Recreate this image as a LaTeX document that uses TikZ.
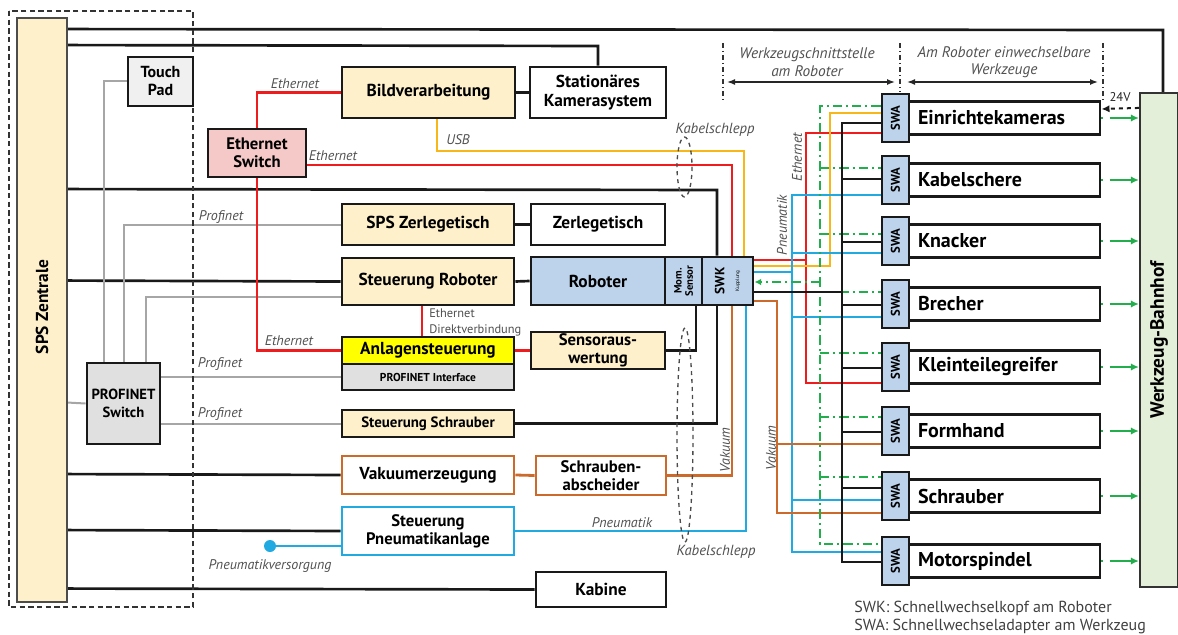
\documentclass[tikz,border=0pt]{standalone}
\usepackage{fontspec}
\setmainfont{PT Sans}
\usetikzlibrary{calc,arrows.meta}

\definecolor{boxorange}{HTML}{FDF0CB}
\definecolor{roboblue}{HTML}{BCD3EB}
\definecolor{switchpink}{HTML}{F6C9C9}
\definecolor{bahngreen}{HTML}{E3EFD9}
\definecolor{padgray}{HTML}{F0F0F0}
\definecolor{pngray}{HTML}{E0E0E0}
\definecolor{anlyellow}{HTML}{FFFF00}
\definecolor{wireorange}{HTML}{CC6A2C}
\definecolor{wireblue}{HTML}{21A9E1}
\definecolor{wireyellow}{HTML}{F7B718}
\definecolor{wirered}{HTML}{EE1C1C}
\definecolor{wiregreen}{HTML}{23AE4E}
\definecolor{wiregray}{HTML}{A6A6A6}
\definecolor{labelgray}{HTML}{505050}

\pgfdeclarelayer{wires}
\pgfsetlayers{wires,main}

\begin{document}
\begin{tikzpicture}[x=0.75pt,y=-0.75pt,
  sz/.style 2 args={minimum width=#1*0.75pt, minimum height=#2*0.75pt},
  box/.style={draw=black!90, line width=2.2pt, inner sep=0pt, align=center,
    font=\bfseries\fontsize{13}{14.5}\selectfont},
  swabox/.style={box, fill=roboblue, sz={27}{48}},
  toolbox/.style={box, sz={191}{33}, text width=173*0.75pt, align=left,
    inner xsep=9*0.75pt, font=\bfseries\fontsize{15}{17}\selectfont},
  rotlabel/.style={rotate=90, inner sep=0pt, align=center},
  bl/.style={draw=black!90, line width=2pt},
  gy/.style={draw=wiregray, line width=1.5pt},
  wr/.style={draw=wirered, line width=2.1pt},
  wy/.style={draw=wireyellow, line width=2.1pt},
  wb/.style={draw=wireblue, line width=2.1pt},
  wo/.style={draw=wireorange, line width=2.1pt},
  wg/.style={draw=wiregreen, line width=2.1pt, dash pattern=on 7pt off 3pt on 1.5pt off 3pt},
  wgarrow/.style={draw=wiregreen, line width=1.5pt, dash pattern=on 1.2pt off 5pt on 30pt,
    -{Latex[length=6pt,width=5.5pt]}},
  wirelabel/.style={inner sep=0pt, text=labelgray, font=\itshape\fontsize{10.5}{12}\selectfont},
  headlabel/.style={inner sep=0pt, text=labelgray, align=center,
    font=\itshape\fontsize{11.5}{13}\selectfont},
  sepline/.style={draw=black!80, line width=1.1pt, dash pattern=on 4pt off 2pt on 1pt off 2pt},
  hoseloop/.style={draw=black!70, line width=1pt, dashed}
]
\useasboundingbox (0,0) rectangle (1178,635);

% ---------------- control cabinet (dashed frame) ----------------
\draw[draw=black!80, line width=1.3pt, dash pattern=on 4pt off 2.5pt] (9,11) rectangle (193,607);

\node[box, fill=boxorange, draw=black!70, line width=1.4pt, sz={50}{584}] (sps) at (42,310) {};
\node[rotlabel, font=\bfseries\fontsize{13}{15}\selectfont] (spslabel) at (42,307) {SPS Zentrale};

\node[box, fill=padgray, sz={65}{49}, font=\bfseries\fontsize{12}{13.5}\selectfont] (touch) at (160.5,81.5) {Touch\\Pad};
\node[box, fill=pngray, sz={73}{81}, font=\bfseries\fontsize{11}{13}\selectfont] (pnsw) at (123.5,403.5) {PROFINET\\Switch};
\node[box, fill=switchpink, sz={98}{48}, font=\bfseries\fontsize{12.5}{13.5}\selectfont] (ethsw) at (257,153) {Ethernet\\Switch};

% ---------------- central blocks ----------------
\node[box, fill=boxorange, sz={173}{51}] (bild) at (428.5,92.5) {Bildverarbeitung};
\node[box, fill=white, sz={136}{51}] (stkam) at (598,92.5) {Stationäres\\Kamerasystem};
\node[box, fill=boxorange, sz={172}{41}] (spszt) at (428,224.5) {SPS Zerlegetisch};
\node[box, fill=white, sz={134}{41}] (zt) at (598,224.5) {Zerlegetisch};
\node[box, fill=boxorange, sz={172}{47}] (stro) at (428,281.5) {Steuerung Roboter};
\node[box, fill=roboblue, sz={134}{48}] (robo) at (598,281) {Roboter};
\node[box, fill=roboblue, sz={37}{48}] (mom) at (683.5,281) {};
\node[rotlabel, font=\bfseries\fontsize{8}{8.5}\selectfont] (momlabel) at (mom) {Mom.\\Sensor};
\node[box, fill=roboblue, sz={51}{48}] (swk) at (727.5,281) {};
\node[rotlabel] (swklabel) at (swk) {{\bfseries\fontsize{10}{10}\selectfont SWK}\\[-1pt]{\fontsize{3.8}{4}\selectfont Kupplung}};
\node[box, fill=anlyellow, sz={172}{27}] (anl) at (428,350.5) {Anlagensteuerung};
\node[box, fill=pngray, sz={172}{26}, font=\bfseries\fontsize{8.6}{9}\selectfont] (pni) at (428,377) {PROFINET Interface};
\node[box, fill=boxorange, sz={134}{37}, font=\bfseries\fontsize{12.5}{13.5}\selectfont] (sens) at (598,350.5) {Sensoraus-\\wertung};
\node[box, fill=boxorange, sz={172}{27}, font=\bfseries\fontsize{11.2}{12}\selectfont] (stsch) at (428,423.5) {Steuerung Schrauber};
\node[box, draw=wireorange, fill=white, sz={172}{38}] (vak) at (428,475) {Vakuumerzeugung};
\node[box, draw=wireorange, fill=white, sz={130}{39}, font=\bfseries\fontsize{12.5}{13.5}\selectfont] (sab) at (601,475.5) {Schrauben-\\abscheider};
\node[box, draw=wireblue, fill=white, sz={172}{48}, font=\bfseries\fontsize{12.5}{13.5}\selectfont] (pneu) at (428,531) {Steuerung\\Pneumatikanlage};
\node[box, fill=white, sz={130}{35}] (kab) at (601,589.5) {Kabine};
\node[circle, fill=wireblue, inner sep=0pt, minimum size=12*0.75pt] (pdot) at (270,546) {};

% ---------------- tool station ----------------
\node[box, fill=bahngreen, draw=black!80, line width=1.6pt, sz={38}{494}] (bahnhof) at (1159,340) {};
\node[rotlabel, font=\bfseries\fontsize{14.5}{16}\selectfont] (bahnlabel) at (1159,340) {Werkzeug-Bahnhof};

\node[toolbox] (tool1) at (1004.5,118) {Einrichtekameras};
\node[toolbox] (tool2) at (1004.5,180) {Kabelschere};
\node[toolbox] (tool3) at (1004.5,241) {Knacker};
\node[toolbox] (tool4) at (1004.5,304) {Brecher};
\node[toolbox] (tool5) at (1004.5,367) {Kleinteilegreifer};
\node[toolbox] (tool6) at (1004.5,431) {Formhand};
\node[toolbox] (tool7) at (1004.5,496) {Schrauber};
\node[toolbox] (tool8) at (1004.5,561) {Motorspindel};

% quick-change adapters
\foreach \i/\y in {1/118,2/180,3/241,4/304,5/367,6/431,7/496,8/561}{
  \node[swabox] (swa\i) at (895.5,\y) {};
  \node[rotlabel, font=\bfseries\fontsize{9.5}{10}\selectfont] (swalabel\i) at (895.5,\y) {SWA};
  \draw[wgarrow] (tool\i.east) -- (bahnhof.west |- tool\i.east);
}

\begin{pgfonlayer}{wires}
% ---------------- lines from the central PLC ----------------
\draw[bl] ($(sps.north east)+(0,12)$) -- (1163,30) -- ($(bahnhof.north)+(4,0)$);
\draw[bl] ($(sps.north east)+(0,28)$) -- (598,46) -- (stkam.north);
\draw[bl] ($(sps.north east)+(0,172)$) -- (717,190) -- ($(swk.north)+(-10.5,0)$);
\draw[bl] ($(sps.north east)+(0,263.5)$) -- (stro.west);
\draw[bl] ($(sps.north east)+(0,457)$) -- (vak.west);
\draw[bl] ($(sps.north east)+(0,513)$) -- (pneu.west);
\draw[bl] ($(sps.north east)+(0,571.5)$) -- (kab.west);
\draw[gy] ($(sps.north east)+(0,385.5)$) -- (pnsw.west);

% PROFINET
\draw[gy] ($(pnsw.north)+(-19.5,0)$) -- (104,81.5) -- (touch.west);
\draw[gy] ($(pnsw.north)+(0.5,0)$) -- (124,224.5) -- (spszt.west);
\draw[gy] ($(pnsw.north)+(22.5,0)$) -- (146,297) -- ($(stro.west)+(0,15.5)$);
\draw[gy] ($(pnsw.east)+(0,-26.5)$) -- (pni.west);
\draw[gy] ($(pnsw.east)+(0,20)$) -- (stsch.west);

% Ethernet
\draw[wr] (ethsw.north) -- (257,92.5) -- (bild.west);
\draw[wr] ($(ethsw.east)+(0,12)$) -- (732,165) -- ($(swk.north)+(4.5,0)$);
\draw[wr] (ethsw.south) -- (257,350.5) -- (anl.west);
\draw[wr] ($(stro.south)+(-6,0)$) -- ($(anl.north)+(-6,0)$);
\draw[wr] (anl.east) -- (sens.west);

% USB
\draw[wy] ($(bild.south)+(8.5,0)$) -- (437,151) -- (744,151) -- ($(swk.north)+(16.5,0)$);

% direct links
\draw[bl] (bild.east) -- (stkam.west);
\draw[bl] (spszt.east) -- (zt.west);
\draw[bl] (stro.east) -- (robo.west);
\draw[bl] (sens.east) -- (696,350.5) -- ($(mom.south)+(12.5,0)$);
\draw[bl] ($(swk.south)+(-10.5,0)$) -- (717,423.5) -- (stsch.east);

% vacuum and pneumatics
\draw[wo] (vak.east) -- (sab.west);
\draw[wo] (sab.east) -- (732,475.5) -- ($(swk.south)+(4.5,0)$);
\draw[wb] (pneu.east) -- (746,531) -- ($(swk.south)+(18.5,0)$);
\draw[wb] ($(pneu.west)+(0,15)$) -- (pdot);

% ---------------- tool interface wiring ----------------
% Ethernet
\draw[wr] ($(swa1.west)+(0,15)$) -- (806,133) -- (806,383) -- ($(swa5.west)+(0,16)$);
\draw[wr] ($(swk.east)+(0,-21)$) -- (806,260);
% USB
\draw[wy] ($(swk.east)+(0,-15)$) -- (830,266) -- (830,113) -- ($(swa1.west)+(0,-5)$);
% pneumatics
\draw[wb] ($(swa2.west)+(0,15)$) -- (792,195) -- (792,552) -- ($(swa8.west)+(0,-9)$);
\draw[wb] (792,253) -- ($(swa3.west)+(0,12)$);
\draw[wb] (792,317) -- ($(swa4.west)+(0,13)$);
\draw[wb] (792,500) -- ($(swa7.west)+(0,4)$);
\draw[wb] ($(swk.east)+(0,-9)$) -- (792,272);
% vacuum
\draw[wo] ($(swk.east)+(0,20)$) -- (777,301) -- (777,513) -- ($(swa7.west)+(0,17)$);
\draw[wo] (777,444) -- ($(swa6.west)+(0,13)$);
% tool recognition
\draw[wg] ($(swa1.west)+(0,-12)$) -- (820,106) -- (820,544) -- ($(swa8.west)+(0,-17)$);
\draw[wg] (820,168) -- ($(swa2.west)+(0,-12)$);
\draw[wg] (820,234) -- ($(swa3.west)+(0,-7)$);
\draw[wg] (820,292) -- ($(swa4.west)+(0,-12)$);
\draw[wg] (820,353) -- ($(swa5.west)+(0,-14)$);
\draw[wg] (820,417) -- ($(swa6.west)+(0,-14)$);
\draw[wg] (820,477) -- ($(swa7.west)+(0,-19)$);
\draw[wg, -{Latex[length=5pt,width=5pt]}] (820,282) -- ($(swk.east)+(0,1)$);
% signal bus
\draw[bl] ($(swa1.west)+(0,5)$) -- (842,123) -- (842,562) -- ($(swa8.west)+(0,1)$);
\draw[bl] (842,179) -- ($(swa2.west)+(0,-1)$);
\draw[bl] (842,242) -- ($(swa3.west)+(0,1)$);
\draw[bl] (842,305) -- ($(swa4.west)+(0,1)$);
\draw[bl] (842,368) -- ($(swa5.west)+(0,1)$);
\draw[bl] (842,432) -- ($(swa6.west)+(0,1)$);
\draw[bl] (842,488) -- ($(swa7.west)+(0,-8)$);
\draw[bl] ($(swk.east)+(0,11)$) -- (842,292);
\end{pgfonlayer}

% cable carriers
\draw[hoseloop] (684.5,167) ellipse [x radius=7.5, y radius=30];
\draw[hoseloop] (685,435) ellipse [x radius=8, y radius=107];

% 24 V supply
\draw[draw=black!90, line width=1.5pt, dashed, -{Latex[length=6pt,width=5.5pt]}]
  ($(bahnhof.north west)+(0,16)$) -- ($(tool1.east)+(0,-9)$);
\node[inner sep=0pt, font=\fontsize{9.5}{10}\selectfont, text=black!85] (v24) at (1120,97) {24V};

% ---------------- header ----------------
\draw[sepline] (723,43) -- (723,102);
\draw[sepline] (900,43) -- (900,92);
\draw[sepline] (1103,43) -- (1103,100);
\draw[draw=black!85, line width=1.1pt, {Latex[length=6pt,width=4.5pt]}-{Latex[length=6pt,width=4.5pt]}] (727,82) -- (895,82);
\draw[draw=black!85, line width=1.1pt, {Latex[length=6pt,width=4.5pt]}-{Latex[length=6pt,width=4.5pt]}] (907,82) -- (1098,82);
\node[headlabel] (headA) at (807,62) {Werkzeugschnittstelle\\am Roboter};
\node[headlabel] (headB) at (1004,62) {Am Roboter einwechselbare\\Werkzeuge};

% ---------------- wire labels ----------------
\node[wirelabel] (lEth1) at (295,84) {Ethernet};
\node[wirelabel] (lEth2) at (333,156) {Ethernet};
\node[wirelabel] (lUsb) at (458,140) {USB};
\node[wirelabel] (lPn1) at (221,217) {Profinet};
\node[wirelabel] (lPn2) at (220,364) {Profinet};
\node[wirelabel] (lPn3) at (220,414) {Profinet};
\node[wirelabel] (lEth3) at (289,341) {Ethernet};
\node[inner sep=0pt, anchor=west, align=left, text=labelgray, font=\fontsize{9.3}{12}\selectfont] (lDirekt) at (429,322) {Ethernet\\Direktverbindung};
\node[wirelabel] (lPneu) at (622,523) {Pneumatik};
\node[wirelabel] (lVers) at (270,566) {Pneumatikversorgung};
\node[wirelabel, rotate=90] (lVak1) at (725,450) {Vakuum};
\node[wirelabel, rotate=90] (lVak2) at (771,448) {Vakuum};
\node[wirelabel, font=\itshape\fontsize{11}{12}\selectfont] (lKab1) at (715,130) {Kabelschlepp};
\node[wirelabel, font=\itshape\fontsize{11}{12}\selectfont] (lKab2) at (716,552) {Kabelschlepp};
\node[wirelabel, rotate=90] (lEth4) at (797,157) {Ethernet};
\node[wirelabel, rotate=90] (lPneu2) at (782,225) {Pneumatik};

% ---------------- legend ----------------
\node[anchor=west, inner sep=0pt, align=left, text=black!75, font=\fontsize{12}{13.5}\selectfont] (legend) at (854,617)
  {SWK: Schnellwechselkopf am Roboter\\SWA: Schnellwechseladapter am Werkzeug};
\end{tikzpicture}
\end{document}
